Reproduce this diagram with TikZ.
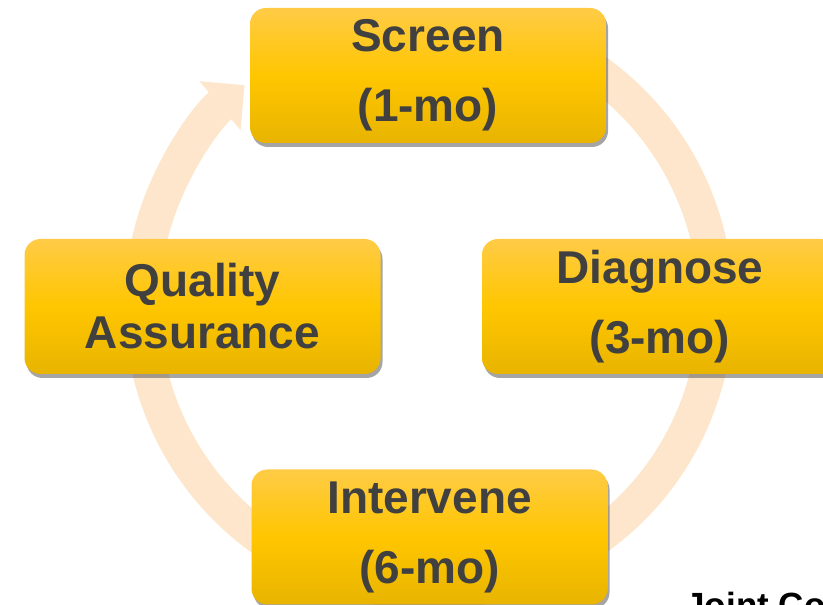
\documentclass[tikz,border=0pt]{standalone}
\usepackage{fontspec}
\setmainfont{Liberation Sans}
\usetikzlibrary{calc, positioning, arrows.meta, shadows}
\definecolor{boxtop}{RGB}{255,203,70}
\definecolor{boxmid}{RGB}{255,198,0}
\definecolor{boxbot}{RGB}{232,180,0}
\definecolor{boxtext}{RGB}{64,64,64}
\definecolor{ring}{RGB}{253,230,203}

\begin{document}
\begin{tikzpicture}
  [x=1pt, y=1pt,
   stage/.style={rectangle, rounded corners=16pt, minimum width=356pt, minimum height=135pt,
     top color=boxtop, bottom color=boxbot, middle color=boxmid,
     drop shadow={shadow xshift=2pt, shadow yshift=-4pt, opacity=.5, fill=black!70},
     font=\bfseries\fontsize{46}{70}\selectfont, text=boxtext, align=center, inner sep=0pt}]
  \useasboundingbox (0,0) rectangle (823,605);
  \clip (0,0) rectangle (823,605);
  % cycle %
  \coordinate (c) at (429,300);
  \draw[line width=35pt, ring, -{Triangle[width=62pt,length=32pt]}]
    ($(c)+(70:287)$) arc[start angle=70, end angle=-230, radius=287];
  % nodes %
  \node[stage] (screen) at (428,529.5) {Screen\\(1-mo)};
  \node[stage] (diag) at (660,298.5) {Diagnose\\(3-mo)};
  \node[stage] (interv) at (429.5,68) {Intervene\\(6-mo)};
  \node[stage, font=\bfseries\fontsize{46}{52}\selectfont] (qa) at (202.5,298.5) {Quality\\Assurance};
  \node[anchor=base west, font=\bfseries\fontsize{35}{42}\selectfont] (jc) at (682,-13) {Joint Co};
\end{tikzpicture}
\end{document}
